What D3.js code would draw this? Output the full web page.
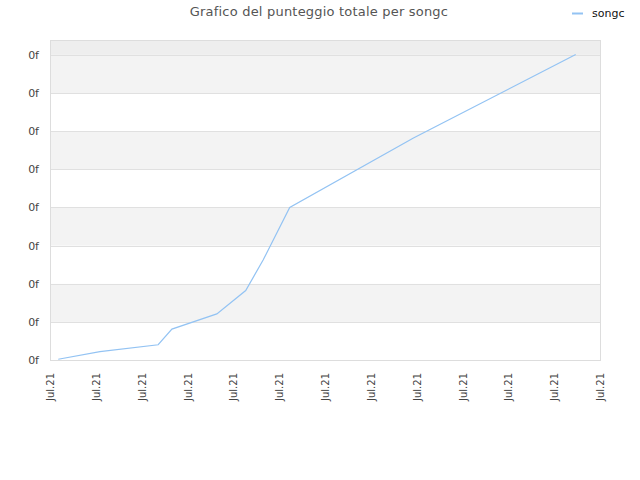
<!DOCTYPE html>
<html>
<head>
<meta charset="utf-8">
<script src="https://cdn.jsdelivr.net/npm/d3@7"></script>
<style>
  body { margin: 0; background: #fff; }
  text { font-family: "DejaVu Sans", sans-serif; }
</style>
</head>
<body>
<svg id="chart" width="640" height="480"></svg>
<script>
// data (x in tick units, y in gridline units)
var seriesName = "songc";
var dayPos = [0.18, 1.09, 2.36, 2.66, 3.64, 4.27, 4.65, 5.23, 7.93, 11.47];
var score  = [0.02, 0.22, 0.40, 0.81, 1.21, 1.82, 2.62, 4.00, 5.82, 8.01];
var xTickLabels = ["Jul.21", "Jul.21", "Jul.21", "Jul.21", "Jul.21", "Jul.21", "Jul.21",
                   "Jul.21", "Jul.21", "Jul.21", "Jul.21", "Jul.21", "Jul.21"];
var yTickLabels = ["0f", "0f", "0f", "0f", "0f", "0f", "0f", "0f", "0f"];

var svg = d3.select("#chart");
var plotLeft = 50, plotRight = 600, plotTop = 40, plotBottom = 360;
var yMax = 8.39;

var x = d3.scaleLinear().domain([0, xTickLabels.length - 1]).range([plotLeft, plotRight]);
var y = d3.scaleLinear().domain([0, yMax]).range([plotBottom, plotTop]);

// bands, alternating; the partial band at the top is a touch darker
var bandEdges = d3.range(0, yTickLabels.length).concat([yMax]);
var bands = [];
for (var i = 0; i < bandEdges.length - 1; i++) {
  bands.push({ lo: bandEdges[i], hi: bandEdges[i + 1], idx: i });
}
svg.append("g").selectAll("rect")
  .data(bands)
  .enter()
  .append("rect")
  .attr("x", plotLeft)
  .attr("width", plotRight - plotLeft)
  .attr("y", function (d) { return y(d.hi); })
  .attr("height", function (d) { return y(d.lo) - y(d.hi); })
  .attr("fill", function (d) {
    if (d.idx === bands.length - 1) return "#eeeeee";
    return d.idx % 2 === 1 ? "#f3f3f3" : "#ffffff";
  });

// gridlines
svg.append("g").selectAll("line")
  .data(d3.range(1, yTickLabels.length))
  .enter()
  .append("line")
  .attr("x1", plotLeft).attr("x2", plotRight)
  .attr("y1", function (d) { return Math.round(y(d)) + 0.5; })
  .attr("y2", function (d) { return Math.round(y(d)) + 0.5; })
  .attr("stroke", "#e0e0e0");

// frame
svg.append("rect")
  .attr("x", plotLeft + 0.5).attr("y", plotTop + 0.5)
  .attr("width", plotRight - plotLeft).attr("height", plotBottom - plotTop)
  .attr("fill", "none")
  .attr("stroke", "#dddddd");

// y labels
var yAxis = d3.axisLeft(y)
  .tickValues(d3.range(0, yTickLabels.length))
  .tickFormat(function (d, i) { return yTickLabels[i]; })
  .tickSize(0)
  .tickPadding(11);
var gy = svg.append("g").attr("transform", "translate(" + plotLeft + ",0)").call(yAxis);
gy.select(".domain").remove();
gy.selectAll("text").attr("font-size", "11px").attr("fill", "#444")
  .attr("font-family", "DejaVu Sans, sans-serif");

// x labels
var xAxis = d3.axisBottom(x)
  .tickValues(d3.range(0, xTickLabels.length))
  .tickFormat(function (d, i) { return xTickLabels[i]; })
  .tickSize(0);
var gx = svg.append("g").attr("transform", "translate(0," + plotBottom + ")").call(xAxis);
gx.select(".domain").remove();
gx.selectAll("text")
  .attr("font-size", "10px").attr("fill", "#444")
  .attr("font-family", "DejaVu Sans, sans-serif")
  .attr("transform", "rotate(-90)")
  .attr("text-anchor", "end")
  .attr("x", -13)
  .attr("y", 0)
  .attr("dy", "0.35em");

// the line
var pts = dayPos.map(function (d, i) { return [d, score[i]]; });
svg.append("path")
  .datum(pts)
  .attr("fill", "none")
  .attr("stroke", "#93c3f3")
  .attr("stroke-width", 1.2)
  .attr("d", d3.line()
    .x(function (d) { return x(d[0]); })
    .y(function (d) { return y(d[1]); }));

// title
svg.append("text")
  .attr("x", 319).attr("y", 16)
  .attr("text-anchor", "middle")
  .attr("font-size", "13px")
  .attr("letter-spacing", "0.2px")
  .attr("fill", "#555")
  .text("Grafico del punteggio totale per " + seriesName);

// legend
var lg = svg.append("g").attr("transform", "translate(572,13)");
lg.append("line").attr("x1", 0).attr("x2", 11).attr("y1", 0.5).attr("y2", 0.5)
  .attr("stroke", "#93c3f3").attr("stroke-width", 2);
lg.append("text").attr("x", 20).attr("y", 4)
  .attr("font-size", "11px").attr("fill", "#111")
  .text(seriesName);
</script>
</body>
</html>
